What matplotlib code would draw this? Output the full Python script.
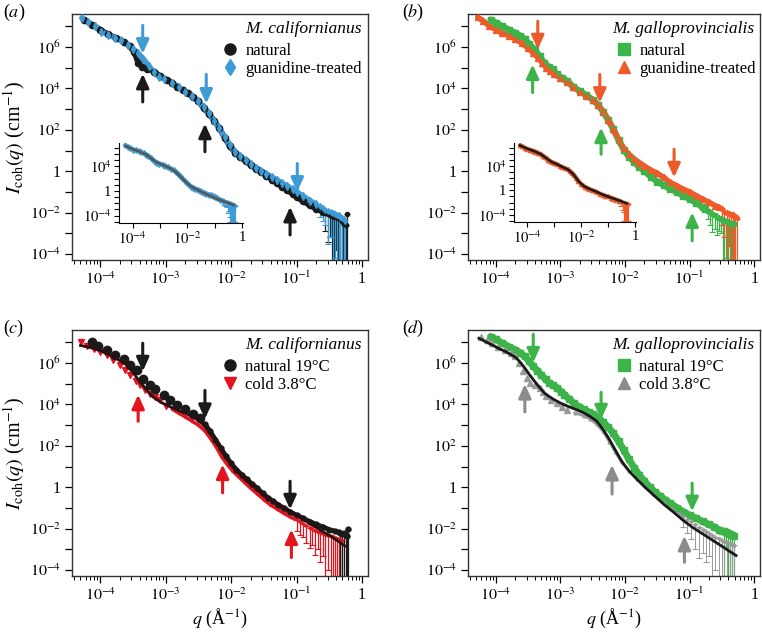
import numpy as np
import matplotlib
matplotlib.use('Agg')
import matplotlib.pyplot as plt
from matplotlib.ticker import LogLocator, FixedLocator, NullLocator, FuncFormatter

plt.rcParams['font.family'] = ['Liberation Serif', 'DejaVu Serif']
plt.rcParams['mathtext.fontset'] = 'stix'

BLACK = '#1a1a1a'
BLUE = '#3d9bd6'
ORANGE = '#ee5a2a'
GREEN = '#3cb44a'
RED = '#e3141e'
GRAY = '#8c8c8c'

# all values are log10(q / A^-1) and log10(I / cm^-1)
# "tail" arrays are the noisy high-q points with the lower end of their error bars
# (a) M. californianus
lq_a_nat = [-4.25, -4.12, -4.0, -3.88, -3.76, -3.64, -3.55, -3.48, -3.42, -3.36, -3.28, -3.18, -3.08, -2.98,
            -2.9, -2.82, -2.74, -2.66, -2.58, -2.5, -2.42, -2.34, -2.26, -2.18, -2.1, -2.02, -1.94, -1.86,
            -1.78, -1.7, -1.62, -1.54, -1.46, -1.38, -1.3, -1.22, -1.14, -1.06, -1.0, -0.9, -0.8, -0.7, -0.6]
lI_a_nat = [7.32, 7.08, 6.85, 6.62, 6.45, 6.26, 6.05, 5.75, 5.25, 5.05, 4.95, 4.82, 4.6, 4.42,
            4.27, 4.08, 3.92, 3.78, 3.6, 3.38, 3.05, 2.78, 2.45, 2.08, 1.62, 1.2, 0.9, 0.68,
            0.48, 0.3, 0.12, -0.05, -0.22, -0.4, -0.58, -0.76, -0.92, -1.1, -1.25, -1.45, -1.65, -1.82, -1.97]
lq_a_nat_tail = [-0.56, -0.52, -0.49, -0.46, -0.43, -0.40, -0.37, -0.34, -0.31, -0.29, -0.27, -0.25, -0.23]
lI_a_nat_tail = [-2.02, -2.08, -2.12, -2.15, -2.2, -2.22, -2.28, -2.3, -2.4, -2.45, -2.55, -2.6, -2.05]
lo_a_nat_tail = [-2.9, -3.4, -3.2, -4.6, -5, -3.8, -5, -5, -5, -5, -5, -5, -5]

lq_a_gua = [-4.28, -4.18, -4.08, -3.98, -3.88, -3.78, -3.68, -3.58, -3.5, -3.42, -3.34, -3.26, -3.18, -3.1,
            -3.02, -2.9, -2.8, -2.7, -2.6, -2.5, -2.42, -2.34, -2.26, -2.18, -2.1, -2.02, -1.94, -1.86,
            -1.78, -1.7, -1.62, -1.54, -1.46, -1.38, -1.3, -1.22, -1.14, -1.06, -1.0, -0.9, -0.8, -0.7]
lI_a_gua = [7.4, 7.2, 7.0, 6.74, 6.6, 6.46, 6.32, 6.1, 5.93, 5.7, 5.42, 5.1, 4.78, 4.57,
            4.46, 4.25, 4.05, 3.85, 3.62, 3.38, 3.1, 2.8, 2.45, 2.08, 1.65, 1.25, 0.95, 0.72,
            0.52, 0.35, 0.18, 0.02, -0.12, -0.28, -0.42, -0.58, -0.72, -0.88, -1.0, -1.2, -1.42, -1.6]
lq_a_gua_tail = [-0.64, -0.6, -0.56, -0.52, -0.48, -0.45, -0.42, -0.39, -0.36, -0.33, -0.3, -0.28, -0.26]
lI_a_gua_tail = [-1.7, -1.78, -1.85, -1.9, -1.96, -2.0, -2.05, -2.1, -2.12, -2.2, -2.25, -2.3, -2.4]
lo_a_gua_tail = [-2.2, -2.4, -2.6, -3.5, -3.2, -5, -4.2, -5, -5, -5, -5, -5, -5]

lq_a_fit = [-4.25, -4.0, -3.75, -3.5, -3.3, -3.1, -2.9, -2.7, -2.5, -2.3, -2.1, -1.9, -1.7, -1.5,
            -1.3, -1.1, -0.9, -0.7, -0.5, -0.3]
lI_a_fit = [7.3, 6.8, 6.4, 5.9, 5.2, 4.6, 4.25, 3.85, 3.35, 2.6, 1.65, 0.85, 0.35, -0.1,
            -0.5, -0.9, -1.3, -1.65, -1.95, -2.3]

# (b) M. galloprovincialis
lq_b_nat = [-4.08, -4.0, -3.9, -3.8, -3.7, -3.62, -3.55, -3.48, -3.4, -3.32, -3.25, -3.18, -3.12, -3.05,
            -2.97, -2.89, -2.8, -2.7, -2.6, -2.5, -2.42, -2.34, -2.26, -2.18, -2.1, -2.02, -1.94, -1.86,
            -1.78, -1.7, -1.6, -1.5, -1.4, -1.3, -1.2, -1.1, -1.0, -0.9, -0.8, -0.76]
lI_b_nat = [7.33, 7.18, 7.01, 6.85, 6.69, 6.55, 6.37, 6.15, 5.89, 5.55, 5.24, 5.05, 4.92, 4.68,
            4.5, 4.36, 4.08, 3.88, 3.68, 3.46, 3.22, 2.88, 2.48, 2.02, 1.5, 1.05, 0.7, 0.45,
            0.2, 0.02, -0.27, -0.5, -0.68, -0.86, -1.0, -1.18, -1.34, -1.52, -1.75, -1.82]
lq_b_nat_tail = [-0.72, -0.68, -0.65, -0.61, -0.58, -0.55, -0.52, -0.49, -0.46, -0.43, -0.4, -0.37, -0.34, -0.32]
lI_b_nat_tail = [-1.9, -1.98, -2.07, -2.12, -2.2, -2.25, -2.31, -2.35, -2.4, -2.42, -2.45, -2.5, -2.5, -2.55]
lo_b_nat_tail = [-2.3, -2.6, -2.95, -2.8, -3.1, -2.9, -3.0, -5, -5, -4.2, -5, -5, -5, -5]

lq_b_gua = [-4.28, -4.2, -4.1, -4.0, -3.9, -3.8, -3.7, -3.6, -3.5, -3.42, -3.35, -3.28, -3.22, -3.16,
            -3.1, -3.0, -2.9, -2.8, -2.7, -2.6, -2.5, -2.42, -2.34, -2.26, -2.18, -2.1, -2.02, -1.94,
            -1.86, -1.78, -1.7, -1.6, -1.5, -1.4, -1.3, -1.2, -1.1, -1.0, -0.9, -0.8, -0.7, -0.6, -0.54]
lI_b_gua = [7.44, 7.28, 7.02, 6.85, 6.68, 6.56, 6.4, 6.2, 5.95, 5.72, 5.49, 5.25, 5.0, 4.85,
            4.68, 4.52, 4.32, 4.06, 3.85, 3.66, 3.45, 3.22, 2.9, 2.5, 2.05, 1.55, 1.1, 0.82,
            0.6, 0.42, 0.25, 0.05, -0.1, -0.3, -0.54, -0.7, -0.87, -1.0, -1.18, -1.35, -1.5, -1.67, -1.75]
lq_b_gua_tail = [-0.5, -0.46, -0.42, -0.39, -0.36, -0.33, -0.31, -0.29, -0.27]
lI_b_gua_tail = [-1.8, -1.9, -1.95, -2.0, -2.05, -2.05, -2.1, -2.15, -2.2]
lo_b_gua_tail = [-2.6, -3.2, -5, -3.6, -5, -5, -5, -5, -5]

lq_b_fit = [-4.28, -4.0, -3.75, -3.5, -3.3, -3.1, -2.9, -2.7, -2.5, -2.3, -2.1, -1.9, -1.7, -1.5,
            -1.3, -1.1, -0.9, -0.7, -0.5, -0.3]
lI_b_fit = [7.4, 6.85, 6.45, 5.95, 5.3, 4.68, 4.3, 3.85, 3.45, 2.7, 1.5, 0.7, 0.25, -0.1,
            -0.5, -0.87, -1.18, -1.5, -1.8, -2.15]

# (c) M. californianus, temperature
lq_c_nat = [-4.13, -4.03, -3.9, -3.77, -3.64, -3.54, -3.44, -3.34, -3.24, -3.16, -3.03, -2.93, -2.83, -2.7,
            -2.58, -2.48, -2.4, -2.32, -2.24, -2.16, -2.08, -2.0, -1.92, -1.84, -1.76, -1.68, -1.6, -1.52,
            -1.44, -1.36, -1.28, -1.2, -1.1, -1.0, -0.9, -0.8, -0.7, -0.6, -0.5, -0.42, -0.36]
lI_c_nat = [7.04, 6.82, 6.61, 6.37, 6.21, 5.92, 5.65, 5.24, 4.92, 4.76, 4.44, 4.2, 3.99, 3.8,
            3.56, 3.35, 3.05, 2.7, 2.3, 1.9, 1.5, 1.15, 0.85, 0.6, 0.38, 0.15, -0.05, -0.3,
            -0.5, -0.68, -0.85, -1.0, -1.19, -1.35, -1.5, -1.66, -1.8, -1.92, -2.05, -2.12, -2.18]
lq_c_nat_tail = [-0.33, -0.3, -0.27, -0.25, -0.23, -0.21]
lI_c_nat_tail = [-2.2, -2.25, -2.22, -2.3, -2.35, -2.0]
lo_c_nat_tail = [-5, -5, -5, -5, -5, -5]

lq_c_cold = [-4.3, -4.2, -4.1, -4.0, -3.9, -3.8, -3.7, -3.62, -3.54, -3.46, -3.39, -3.32, -3.24, -3.16,
             -3.09, -3.0, -2.9, -2.8, -2.7, -2.6, -2.5, -2.4, -2.3, -2.22, -2.14, -2.06, -1.98, -1.9,
             -1.8, -1.7, -1.6, -1.5, -1.4, -1.3, -1.2, -1.1, -1.04]
lI_c_cold = [7.01, 6.85, 6.69, 6.53, 6.37, 6.15, 5.89, 5.65, 5.41, 5.15, 4.92, 4.72, 4.52, 4.35,
             4.2, 3.95, 3.78, 3.58, 3.4, 3.2, 3.0, 2.72, 2.3, 1.9, 1.45, 1.1, 0.8, 0.55,
             0.25, -0.05, -0.32, -0.6, -0.85, -1.05, -1.25, -1.43, -1.52]
lq_c_cold_tail = [-1.0, -0.95, -0.9, -0.85, -0.8, -0.76, -0.72, -0.68, -0.64, -0.6, -0.56, -0.52, -0.48,
                  -0.45, -0.42, -0.39, -0.36, -0.33, -0.3]
lI_c_cold_tail = [-1.6, -1.68, -1.78, -1.85, -1.95, -2.02, -2.1, -2.15, -2.2, -2.25, -2.3, -2.35, -2.38,
                  -2.42, -2.45, -2.48, -2.5, -2.55, -2.6]
lo_c_cold_tail = [-2.1, -2.3, -2.4, -2.7, -2.95, -2.8, -3.27, -3.0, -3.6, -3.3, -5, -4.0, -5,
                  -5, -5, -5, -5, -5, -5]

lq_c_fit = [-4.3, -4.15, -4.0, -3.88, -3.75, -3.67, -3.59, -3.5, -3.39, -3.29, -3.19, -3.08, -2.98, -2.88,
            -2.78, -2.68, -2.58, -2.48, -2.38, -2.27, -2.17, -2.07, -1.97, -1.87, -1.77, -1.66, -1.56, -1.46,
            -1.33, -1.2, -1.08, -0.95, -0.83, -0.7, -0.57, -0.44, -0.35, -0.26]
lI_c_fit = [6.85, 6.75, 6.61, 6.42, 6.21, 6.07, 5.89, 5.55, 5.08, 4.7, 4.36, 4.12, 3.96, 3.82,
            3.67, 3.55, 3.38, 3.2, 2.85, 2.4, 1.9, 1.4, 1.0, 0.65, 0.35, 0.05, -0.22, -0.45,
            -0.72, -0.98, -1.2, -1.45, -1.7, -1.95, -2.2, -2.45, -2.64, -2.84]

# (d) M. galloprovincialis, temperature
lq_d_nat = [-4.08, -4.0, -3.9, -3.8, -3.7, -3.62, -3.55, -3.48, -3.42, -3.36, -3.3, -3.23, -3.17, -3.11,
            -3.05, -2.99, -2.94, -2.86, -2.79, -2.71, -2.64, -2.56, -2.49, -2.42, -2.34, -2.26, -2.18, -2.1,
            -2.02, -1.94, -1.86, -1.78, -1.7, -1.62, -1.54, -1.46, -1.38, -1.3, -1.2, -1.1, -1.0, -0.9,
            -0.8, -0.7, -0.62, -0.55, -0.5]
lI_d_nat = [7.28, 7.15, 6.96, 6.8, 6.64, 6.5, 6.32, 6.08, 5.84, 5.64, 5.44, 5.22, 5.04, 4.92,
            4.8, 4.62, 4.48, 4.25, 4.05, 3.9, 3.76, 3.64, 3.52, 3.38, 3.15, 2.9, 2.6, 2.22,
            1.8, 1.35, 0.95, 0.6, 0.3, 0.02, -0.22, -0.42, -0.6, -0.78, -0.98, -1.18, -1.35, -1.5,
            -1.65, -1.8, -1.92, -2.05, -2.1]
lq_d_nat_tail = [-0.46, -0.43, -0.4, -0.37, -0.34, -0.32]
lI_d_nat_tail = [-2.12, -2.18, -2.2, -2.25, -2.3, -2.35]
lo_d_nat_tail = [-5, -2.9, -5, -5, -5, -5]

lq_d_cold = [-4.23, -4.14, -4.06, -3.96, -3.85, -3.77, -3.7, -3.64, -3.58, -3.52, -3.47, -3.4, -3.32, -3.27,
             -3.22, -3.14, -3.05, -2.97, -2.89, -2.78, -2.64, -2.54, -2.44, -2.34, -2.24, -2.15, -2.05, -1.94,
             -1.82, -1.69, -1.55, -1.4, -1.25, -1.15]
lI_d_cold = [7.28, 7.1, 6.96, 6.8, 6.64, 6.5, 6.32, 6.0, 5.6, 5.3, 5.04, 4.92, 4.8, 4.6,
             4.4, 4.22, 4.08, 3.9, 3.75, 3.6, 3.45, 3.3, 3.05, 2.7, 2.2, 1.7, 1.2, 0.78,
             0.42, 0.05, -0.32, -0.72, -1.05, -1.28]
lq_d_cold_tail = [-1.1, -1.04, -0.98, -0.92, -0.86, -0.8, -0.75, -0.7, -0.65, -0.6, -0.55, -0.5, -0.46,
                  -0.42, -0.38, -0.35, -0.32]
lI_d_cold_tail = [-1.4, -1.55, -1.65, -1.78, -1.9, -2.0, -2.1, -2.2, -2.3, -2.4, -2.45, -2.55, -2.6,
                  -2.65, -2.7, -2.75, -2.8]
lo_d_cold_tail = [-1.9, -2.2, -2.5, -3.0, -3.4, -3.2, -3.6, -3.3, -5, -4.0, -5, -5, -5,
                  -5, -5, -5, -5]

lq_d_fit = [-4.26, -4.16, -4.06, -3.96, -3.85, -3.76, -3.68, -3.61, -3.55, -3.48, -3.4, -3.32, -3.25, -3.17,
            -3.1, -3.0, -2.89, -2.76, -2.64, -2.54, -2.44, -2.34, -2.24, -2.15, -2.05, -1.94, -1.82, -1.69,
            -1.55, -1.39, -1.25, -1.1, -0.95, -0.8, -0.65, -0.5, -0.38, -0.28]
lI_d_fit = [7.2, 7.04, 6.88, 6.72, 6.56, 6.4, 6.24, 6.0, 5.76, 5.45, 5.12, 4.82, 4.56, 4.38,
            4.24, 4.07, 3.92, 3.76, 3.6, 3.42, 3.2, 2.8, 2.3, 1.8, 1.25, 0.8, 0.4, 0.0,
            -0.4, -0.85, -1.2, -1.6, -1.95, -2.25, -2.55, -2.85, -3.1, -3.3]

# arrows: (log q, log I tail, log I tip, colour)
arrows_a = [(-3.35, 7.05, 5.68, BLUE), (-2.38, 4.68, 3.27, BLUE), (-0.99, 0.37, -0.99, BLUE),
            (-3.35, 3.35, 4.71, BLACK), (-2.40, 0.94, 2.30, BLACK), (-1.10, -3.08, -1.72, BLACK)]
arrows_b = [(-3.35, 7.25, 5.89, ORANGE), (-2.39, 4.68, 3.31, ORANGE), (-1.24, 1.06, -0.30, ORANGE),
            (-3.43, 3.80, 5.16, GREEN), (-2.37, 0.82, 2.11, GREEN), (-0.96, -3.36, -1.99, GREEN)]
arrows_c = [(-3.35, 6.96, 5.60, BLACK), (-2.40, 4.68, 3.30, BLACK), (-1.10, 0.29, -1.07, BLACK),
            (-3.42, 3.19, 4.47, RED), (-2.13, -0.27, 1.10, RED), (-1.08, -3.40, -2.04, RED)]
arrows_d = [(-3.42, 7.39, 6.03, GREEN), (-2.37, 4.59, 3.28, GREEN), (-0.96, 0.20, -1.16, GREEN),
            (-3.55, 3.64, 4.99, GRAY), (-2.20, -0.33, 1.08, GRAY), (-1.08, -3.63, -2.35, GRAY)]


def dec_label(v, pos):
    e = int(round(np.log10(v)))
    return '1' if e == 0 else r'$10^{%d}$' % e


def even_label(v, pos):
    e = int(round(np.log10(v)))
    if e % 2:
        return ''
    return dec_label(v, pos)


def inset_label(v, pos):
    e = int(round(np.log10(v)))
    if e % 4:
        return ''
    return dec_label(v, pos)


def series(ax, lq, lI, color, marker, ms, lw, split=None, ms2=2.0):
    q = 10.0 ** np.array(lq)
    I = 10.0 ** np.array(lI)
    if split is None:
        ax.plot(q, I, '-', color=color, lw=lw, zorder=2, solid_capstyle='round')
        ax.plot(q, I, marker, color=color, ms=ms, mec=color, ls='none', zorder=3)
    else:
        big = np.array(lq) < split
        ax.plot(q[big], I[big], marker, color=color, ms=ms, mec=color, ls='none', zorder=3)
        ax.plot(q[~big], I[~big], '-', color=color, lw=lw, zorder=2, solid_capstyle='round')
        ax.plot(q[~big], I[~big], marker, color=color, ms=ms2, mec=color, ls='none', zorder=3)


def tail(ax, lq, lI, lo, color, marker, ms, elw=0.9):
    q = 10.0 ** np.array(lq)
    I = 10.0 ** np.array(lI)
    low = 10.0 ** np.array(lo)
    ax.errorbar(q, I, yerr=[I - low, np.zeros_like(I)], fmt='none', ecolor=color,
                elinewidth=elw, capsize=2, capthick=0.8, zorder=2)
    ax.plot(q, I, marker, color=color, ms=ms, mec=color, ls='none', zorder=3)


def fitline(ax, lq, lI, color, lw=1.8):
    ax.plot(10.0 ** np.array(lq), 10.0 ** np.array(lI), '-', color=color, lw=lw, zorder=4)


def setup(ax, xlabel):
    ax.set_xscale('log')
    ax.set_yscale('log')
    ax.set_xlim(10 ** -4.43, 10 ** 0.09)
    ax.set_ylim(10 ** -4.29, 10 ** 7.6)
    ax.xaxis.set_major_locator(FixedLocator(10.0 ** np.arange(-4, 1)))
    ax.xaxis.set_minor_locator(LogLocator(base=10, subs=np.arange(2, 10), numticks=50))
    ax.xaxis.set_major_formatter(FuncFormatter(dec_label))
    ax.yaxis.set_major_locator(FixedLocator(10.0 ** np.arange(-4, 8)))
    ax.yaxis.set_minor_locator(NullLocator())
    ax.yaxis.set_major_formatter(FuncFormatter(even_label))
    ax.tick_params(which='major', direction='out', length=5, width=0.9, labelsize=11.5, pad=3)
    ax.tick_params(which='minor', direction='out', length=3, width=0.7)
    for s in ax.spines.values():
        s.set_linewidth(1.0)
        s.set_color('#333333')
    if xlabel:
        ax.set_xlabel(r'$q$ (Å$^{-1}$)', fontsize=13, labelpad=2)


def add_arrows(ax, arrows):
    for lq, a0, a1, c in arrows:
        ax.annotate('', xy=(10 ** lq, 10 ** a1), xytext=(10 ** lq, 10 ** a0),
                    arrowprops=dict(arrowstyle='-|>,head_length=0.55,head_width=0.25',
                                    color=c, lw=2.2, shrinkA=0, shrinkB=0, mutation_scale=15),
                    zorder=6)


def add_legend(ax, title, handles, labels):
    ax.text(0.98, 0.937, title, transform=ax.transAxes, ha='right', va='center',
            style='italic', fontsize=12.5)
    ax.legend(handles, labels, loc='upper left', bbox_to_anchor=(0.51, 0.882), frameon=False,
              fontsize=12, handlelength=0.9, handletextpad=0.45, labelspacing=0.12,
              borderaxespad=0, borderpad=0)


def make_inset(rect):
    axi = fig.add_axes(rect)
    axi.set_xscale('log')
    axi.set_yscale('log')
    axi.set_xlim(10 ** -4.5, 10 ** 0.04)
    axi.set_ylim(10 ** -5.2, 10 ** 7.8)
    axi.xaxis.set_major_locator(FixedLocator(10.0 ** np.arange(-4, 1)))
    axi.xaxis.set_minor_locator(NullLocator())
    axi.xaxis.set_major_formatter(FuncFormatter(lambda v, p: dec_label(v, p) if int(round(np.log10(v))) % 2 == 0 else ''))
    axi.yaxis.set_major_locator(FixedLocator(10.0 ** np.arange(-5, 8)))
    axi.yaxis.set_minor_locator(NullLocator())
    axi.yaxis.set_major_formatter(FuncFormatter(inset_label))
    axi.tick_params(which='major', direction='out', length=3.5, width=0.8, labelsize=10.5, pad=2)
    axi.spines['top'].set_visible(False)
    axi.spines['right'].set_visible(False)
    axi.patch.set_alpha(0)
    return axi


fig = plt.figure(figsize=(7.62, 6.32), dpi=100)
W, H = 762.0, 632.0
axa = fig.add_axes([72 / W, 1 - 260 / H, 296 / W, 246 / H])
axb = fig.add_axes([468 / W, 1 - 260 / H, 292 / W, 246 / H])
axc = fig.add_axes([72 / W, 1 - 576 / H, 296 / W, 246 / H])
axd = fig.add_axes([468 / W, 1 - 576 / H, 292 / W, 246 / H])

ylab = r'$I_{\mathrm{coh}}(q)$ (cm$^{-1}$)'

# (a)
setup(axa, False)
series(axa, lq_a_nat, lI_a_nat, BLACK, 'o', 4.5, 4.0)
tail(axa, lq_a_nat_tail, lI_a_nat_tail, lo_a_nat_tail, BLACK, 'o', 3)
series(axa, lq_a_gua, lI_a_gua, BLUE, 'd', 4.0, 4.0)
tail(axa, lq_a_gua_tail, lI_a_gua_tail, lo_a_gua_tail, BLUE, 'd', 3)
add_arrows(axa, arrows_a)
h1, = axa.plot([], [], 'o', color=BLACK, ms=8)
h2, = axa.plot([], [], 'd', color=BLUE, ms=8)
add_legend(axa, 'M. californianus', [h1, h2], ['natural', 'guanidine-treated'])
axa.set_ylabel(ylab, fontsize=14.5, labelpad=2)

# (b)
setup(axb, False)
series(axb, lq_b_nat, lI_b_nat, GREEN, 's', 4.0, 4.5)
tail(axb, lq_b_nat_tail, lI_b_nat_tail, lo_b_nat_tail, GREEN, 's', 3)
series(axb, lq_b_gua, lI_b_gua, ORANGE, '^', 4.0, 4.0)
tail(axb, lq_b_gua_tail, lI_b_gua_tail, lo_b_gua_tail, ORANGE, '^', 3.5)
add_arrows(axb, arrows_b)
h1, = axb.plot([], [], 's', color=GREEN, ms=8)
h2, = axb.plot([], [], '^', color=ORANGE, ms=8)
add_legend(axb, 'M. galloprovincialis', [h1, h2], ['natural', 'guanidine-treated'])

# (c)
setup(axc, True)
series(axc, lq_c_cold, lI_c_cold, RED, 'v', 5.0, 2.5, split=-2.95, ms2=2.0)
tail(axc, lq_c_cold_tail, lI_c_cold_tail, lo_c_cold_tail, RED, 'v', 2.0)
series(axc, lq_c_nat, lI_c_nat, BLACK, 'o', 6.0, 3.5, split=-2.45, ms2=3.5)
tail(axc, lq_c_nat_tail, lI_c_nat_tail, lo_c_nat_tail, BLACK, 'o', 3.5)
fitline(axc, lq_c_fit, lI_c_fit, '#2a1010', lw=2.0)
add_arrows(axc, arrows_c)
h1, = axc.plot([], [], 'o', color=BLACK, ms=8)
h2, = axc.plot([], [], 'v', color=RED, ms=8)
add_legend(axc, 'M. californianus', [h1, h2], ['natural 19°C', 'cold 3.8°C'])
axc.set_ylabel(ylab, fontsize=14.5, labelpad=2)

# (d)
setup(axd, True)
series(axd, lq_d_nat, lI_d_nat, GREEN, 's', 5.0, 5.0)
tail(axd, lq_d_nat_tail, lI_d_nat_tail, lo_d_nat_tail, GREEN, 's', 4)
series(axd, lq_d_cold, lI_d_cold, '#9a9a9a', '^', 5.0, 2.0, split=-2.85, ms2=2.0)
tail(axd, lq_d_cold_tail, lI_d_cold_tail, lo_d_cold_tail, '#9a9a9a', '^', 2.0, elw=0.7)
fitline(axd, lq_d_fit, lI_d_fit, BLACK, lw=2.0)
add_arrows(axd, arrows_d)
h1, = axd.plot([], [], 's', color=GREEN, ms=8)
h2, = axd.plot([], [], '^', color=GRAY, ms=8)
add_legend(axd, 'M. galloprovincialis', [h1, h2], ['natural 19°C', 'cold 3.8°C'])

# insets
axi = make_inset([119 / W, 1 - 223 / H, 124 / W, 80 / H])
series(axi, lq_a_gua, lI_a_gua, BLUE, 'd', 3.0, 3.0)
tail(axi, lq_a_gua_tail, lI_a_gua_tail, lo_a_gua_tail, BLUE, 'd', 2)
fitline(axi, lq_a_fit, lI_a_fit, '#555555', lw=1.8)

axi = make_inset([514 / W, 1 - 222 / H, 122 / W, 79 / H])
series(axi, lq_b_gua, lI_b_gua, ORANGE, '^', 3.0, 3.0)
tail(axi, lq_b_gua_tail, lI_b_gua_tail, lo_b_gua_tail, ORANGE, '^', 2)
fitline(axi, lq_b_fit, lI_b_fit, BLACK, lw=1.8)

for txt, x, y in [('a', 0.004, 0.997), ('b', 0.527, 0.997), ('c', 0.004, 0.497), ('d', 0.527, 0.497)]:
    fig.text(x, y, '($' + txt + '$)', fontsize=13, ha='left', va='top')

fig.savefig('out.png', dpi=100)
